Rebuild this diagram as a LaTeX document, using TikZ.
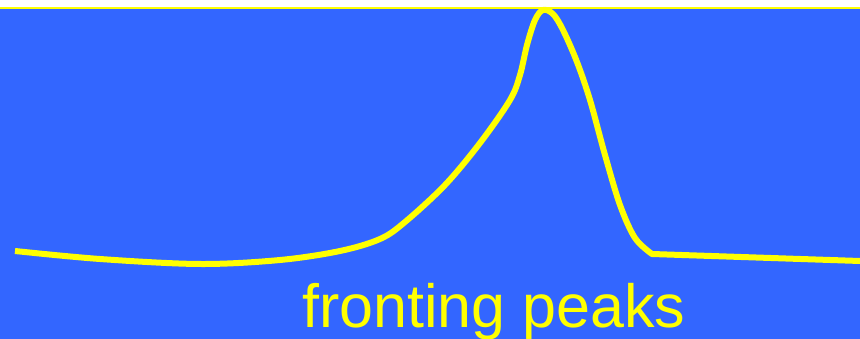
\documentclass[tikz,border=0pt]{standalone}
\usepackage{fontspec}
\setmainfont{Liberation Sans}
\definecolor{bgblue}{HTML}{3366FF}
\definecolor{pkyellow}{HTML}{FFFF00}
\begin{document}
\begin{tikzpicture}[x=1pt,y=-1pt,
  curve/.style={draw=pkyellow,line width=6pt,line join=round},
  label/.style={text=pkyellow,font=\fontsize{61}{61}\selectfont,inner sep=0pt,anchor=base west}]
\useasboundingbox (0,0) rectangle (860,339);
\clip (0,0) rectangle (860,339);
\fill[white] (0,0) rectangle (860,9);
\fill[bgblue] (0,8) rectangle (860,339);
\draw[pkyellow,line width=2pt] (0,8) -- (860,8);
\draw[curve] plot[smooth,tension=0.55] coordinates {(15,251) (100,259) (200,264) (280,260) (340,251) (380,239) (405,222) (445,185) (480,143) (510,100) (520,75) (527,45) (535,20) (543,10) (553,14) (563,30) (577,62) (590,100) (605,155) (620,205) (635,238) (652,254)} -- (860,261);
\node[label] (t) at (302,327) {fronting peaks};
\end{tikzpicture}
\end{document}
